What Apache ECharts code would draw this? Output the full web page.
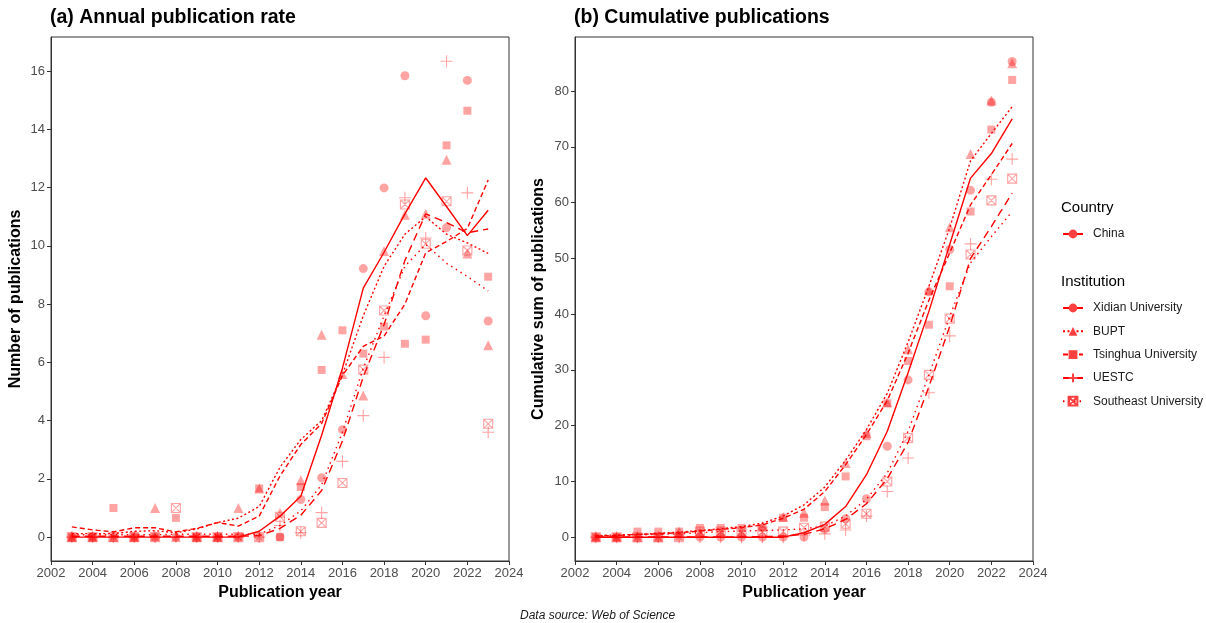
<!DOCTYPE html>
<html>
<head>
<meta charset="utf-8">
<script src="https://cdn.jsdelivr.net/npm/echarts@6/dist/echarts.min.js"></script>
<style>
html,body{margin:0;padding:0;background:#fff;}
#chart{width:1206px;height:623px;}
</style>
</head>
<body>
<div id="chart"></div>
<script>
// ---------- DATA ----------
const years = [2003,2004,2005,2006,2007,2008,2009,2010,2011,2012,2013,2014,2015,2016,2017,2018,2019,2020,2021,2022,2023];
const institutions = ['Xidian University','BUPT','Tsinghua University','UESTC','Southeast University'];
const countries = ['China'];
const xTicks = [2002,2004,2006,2008,2010,2012,2014,2016,2018,2020,2022,2024];
const rateTicks = [0,2,4,6,8,10,12,14,16];
const cumTicks = [0,10,20,30,40,50,60,70,80];

// (a) annual publications (points)
const rateXidian    = [0,0,0,0,0,0,0,0,0,0,0,1.29,2.04,3.69,9.22,11.99,15.84,7.60,10.62,15.68,7.42];
const rateBUPT      = [0,0,0,0,1.0,0,0,0,1.0,1.67,0.84,1.95,6.95,5.60,4.86,9.82,11.07,11.10,12.96,9.74,6.59];
const rateTsinghua  = [0,0,1.0,0,0,0.66,0,0,0,1.67,0,1.72,5.74,7.10,6.30,7.23,6.64,6.78,13.45,14.64,8.94];
const rateUESTC     = [0,0,0,0,0,0,0,0,0,0,0.40,0.15,0.84,2.60,4.17,6.17,11.65,10.27,16.34,11.82,3.60];
const rateSoutheast = [0,0,0,0,0,1.0,0,0,0,0,0.70,0.20,0.49,1.86,5.75,7.78,11.42,10.07,11.53,9.84,3.89];

// (a) trend lines
const trendRateXidian    = [0,0,0,0,0,0,0,0,0,0.20,0.72,1.40,3.50,5.80,8.55,9.78,11.10,12.33,11.35,10.35,11.22];
const trendRateBUPT      = [0.12,0.12,0.12,0.20,0.22,0.15,0.28,0.50,0.65,1.05,2.40,3.35,4.00,5.58,7.60,9.30,10.40,11.00,10.40,10.10,9.74];
const trendRateTsinghua  = [0.35,0.25,0.18,0.32,0.32,0.18,0.30,0.50,0.38,0.72,2.10,3.18,3.90,5.55,6.55,6.90,8.00,9.76,10.15,10.60,12.26];
const trendRateUESTC     = [0.03,0.03,0.03,0.03,0.03,0.03,0.03,0.03,0.03,0.05,0.30,0.75,1.60,3.30,5.50,7.30,9.50,11.10,10.80,10.45,10.58];
const trendRateSoutheast = [0.08,0.08,0.08,0.08,0.08,0.10,0.10,0.10,0.10,0.10,0.40,0.90,1.80,3.60,5.80,7.60,9.30,10.05,9.40,8.95,8.45];

// (b) cumulative publications (points)
const cumXidian    = [0,0,0,0,0,0,0,0,0,0,0,1.4,3.3,6.9,16.3,28.2,44.0,51.6,62.2,78.0,85.3];
const cumBUPT      = [0,0,0,0,1.0,1.0,1.0,1.0,2.0,3.6,4.4,6.6,13.3,18.7,24.2,33.7,44.3,55.6,68.7,78.3,85.0];
const cumTsinghua  = [0,0,1.0,1.0,1.0,1.66,1.66,1.66,1.66,3.5,3.5,5.4,10.9,18.1,24.0,31.6,38.1,45.0,58.4,73.1,82.0];
const cumUESTC     = [0,0,0,0,0,0,0,0,0,0,0.4,0.6,1.3,3.8,8.2,14.2,25.9,36.1,52.6,64.2,67.8];
const cumSoutheast = [0,0,0,0,0,1.0,1.0,1.0,1.0,1.0,1.7,1.9,2.4,4.2,10.0,17.8,29.1,39.2,50.7,60.4,64.3];

// (b) trend lines
const trendCumXidian    = [0,0,0,0,0,0,0,0,0,0,0.8,2.3,5.5,11.2,19.0,29.5,40.5,52.5,64.4,68.8,75.0];
const trendCumBUPT      = [0.3,0.4,0.5,0.7,0.9,1.2,1.5,1.9,2.5,3.8,5.8,9.0,13.8,19.3,25.8,35.0,45.0,55.5,67.5,72.4,77.2];
const trendCumTsinghua  = [0.2,0.3,0.5,0.6,0.8,1.1,1.4,1.7,2.2,3.4,5.0,8.2,13.0,18.4,24.5,33.0,42.5,51.0,59.6,65.0,70.6];
const trendCumUESTC     = [0.05,0.05,0.05,0.05,0.05,0.05,0.05,0.05,0.1,0.2,0.5,1.5,3.2,6.0,10.5,17.0,27.0,37.8,50.0,55.7,61.7];
const trendCumSoutheast = [0.2,0.3,0.4,0.5,0.6,0.8,1.0,1.1,1.2,1.3,1.5,2.0,3.8,6.8,11.5,19.0,29.1,39.6,49.2,53.9,58.4];

// ---------- STYLE ----------
const FONT = 'Liberation Sans, Arial, Helvetica, sans-serif';
const LINE_RED = '#ff0000';
const PT_RED = 'rgba(255,0,0,0.45)';
const plusPath = 'path://M5,0L5,10M0,5L10,5';
const boxXPath = 'path://M0,0L10,0L10,10L0,10ZM0,0L10,10M10,0L0,10';
const styles = {
  'Xidian University':   {symbol:'circle',   size:9,  stroke:false, dash:'solid'},
  'BUPT':                {symbol:'triangle', size:10, stroke:false, dash:[2,2.5]},
  'Tsinghua University': {symbol:'rect',     size:8,  stroke:false, dash:[5,3]},
  'UESTC':               {symbol:plusPath,   size:12, stroke:true,  dash:[8,5]},
  'Southeast University':{symbol:boxXPath,   size:9,  stroke:true,  dash:[1.5,4]}
};

const rateSets  = [rateXidian, rateBUPT, rateTsinghua, rateUESTC, rateSoutheast];
const rateTrend = [trendRateXidian, trendRateBUPT, trendRateTsinghua, trendRateUESTC, trendRateSoutheast];
const cumSets   = [cumXidian, cumBUPT, cumTsinghua, cumUESTC, cumSoutheast];
const cumTrend  = [trendCumXidian, trendCumBUPT, trendCumTsinghua, trendCumUESTC, trendCumSoutheast];

function pairs(arr){ return years.map((y,i)=>[y, arr[i]]); }

const series = [];
// Empty country series for the legend
series.push({
  name: countries[0], type:'line', xAxisIndex:0, yAxisIndex:0, data:[],
  symbol:'circle', showSymbol:false,
  lineStyle:{color:LINE_RED, width:1.4, type:'solid'},
  itemStyle:{color:'#ff4040'}
});
institutions.forEach((name, k) => {
  const st = styles[name];
  const ptStyle = st.stroke
    ? {color:'transparent', borderColor:PT_RED, borderWidth:1.1}
    : {color:PT_RED, borderWidth:0};
  const legStyle = st.stroke
    ? {color:'transparent', borderColor:'#ff4040', borderWidth:1.2}
    : {color:'#ff4040', borderWidth:0};
  [[rateTrend[k], 0], [cumTrend[k], 1]].forEach(([arr, idx]) => {
    series.push({
      name, type:'line', xAxisIndex:idx, yAxisIndex:idx, data:pairs(arr),
      symbol:st.symbol, showSymbol:false, z:4, silent:true,
      lineStyle:{color:LINE_RED, width:1.4, type:st.dash},
      itemStyle:legStyle
    });
  });
  [[rateSets[k], 0], [cumSets[k], 1]].forEach(([arr, idx]) => {
    series.push({
      name, type:'scatter', xAxisIndex:idx, yAxisIndex:idx, data:pairs(arr),
      symbol:st.symbol, symbolSize:st.size, z:3, silent:true,
      itemStyle:ptStyle
    });
  });
});

function xAxis(gridIndex){
  return {
    type:'value', gridIndex, min:2002, max:2024, interval:2,
    name:'Publication year', nameLocation:'middle', nameGap:23,
    nameTextStyle:{fontFamily:FONT, fontSize:16, fontWeight:'bold', color:'#000'},
    axisLine:{show:true, onZero:false, lineStyle:{color:'#333', width:1}},
    axisTick:{show:true, length:4, lineStyle:{color:'#333'}},
    axisLabel:{fontFamily:FONT, fontSize:13, color:'#4d4d4d', margin:6, formatter:v=>String(v),
      customValues:xTicks},
    splitLine:{show:false}
  };
}
function yAxis(gridIndex, min, max, ticks, name, gap){
  return {
    type:'value', gridIndex, min, max,
    name, nameLocation:'middle', nameGap:gap,
    nameTextStyle:{fontFamily:FONT, fontSize:16, fontWeight:'bold', color:'#000'},
    axisLine:{show:true, onZero:false, lineStyle:{color:'#333', width:1}},
    axisTick:{show:true, length:4, lineStyle:{color:'#333'}, customValues:ticks},
    axisLabel:{fontFamily:FONT, fontSize:13, color:'#4d4d4d', margin:6, customValues:ticks},
    splitLine:{show:false}
  };
}

const option = {
  animation:false,
  backgroundColor:'#fff',
  textStyle:{fontFamily:FONT},
  title:[
    {text:'(a) Annual publication rate', left:50, top:8, padding:0,
     textStyle:{fontFamily:FONT, fontSize:19.5, fontWeight:'bold', color:'#000'}},
    {text:'(b) Cumulative publications', left:574, top:8, padding:0,
     textStyle:{fontFamily:FONT, fontSize:19.5, fontWeight:'bold', color:'#000'}},
    {text:'Country', left:1061, top:200, padding:0,
     textStyle:{fontFamily:FONT, fontSize:15, fontWeight:'normal', color:'#000'}},
    {text:'Institution', left:1061, top:274, padding:0,
     textStyle:{fontFamily:FONT, fontSize:15, fontWeight:'normal', color:'#000'}},
    {text:'Data source: Web of Science', left:520, top:610, padding:0,
     textStyle:{fontFamily:FONT, fontSize:12, fontStyle:'italic', fontWeight:'normal', color:'#1a1a1a'}}
  ],
  legend:[
    {data:countries, orient:'vertical', left:1062, top:228, padding:0,
     itemWidth:20, itemHeight:11, selectedMode:false,
     textStyle:{fontFamily:FONT, fontSize:12, color:'#1a1a1a', padding:[0,0,0,5]}},
    {data:institutions, orient:'vertical', left:1062, top:302, padding:0, itemGap:11.3,
     itemWidth:20, itemHeight:11, selectedMode:false,
     textStyle:{fontFamily:FONT, fontSize:12, color:'#1a1a1a', padding:[0,0,0,5]}}
  ],
  grid:[
    {left:51, top:37, width:458, height:524, show:true, borderColor:'#333', borderWidth:1, backgroundColor:'#fff'},
    {left:575, top:37, width:458, height:524, show:true, borderColor:'#333', borderWidth:1, backgroundColor:'#fff'}
  ],
  xAxis:[xAxis(0), xAxis(1)],
  yAxis:[
    yAxis(0, -0.82, 17.17, rateTicks, 'Number of publications', 27),
    yAxis(1, -4.27, 89.7, cumTicks, 'Cumulative sum of publications', 28)
  ],
  series
};

const chart = echarts.init(document.getElementById('chart'), null, {renderer:'canvas'});
chart.setOption(option);
</script>
</body>
</html>
